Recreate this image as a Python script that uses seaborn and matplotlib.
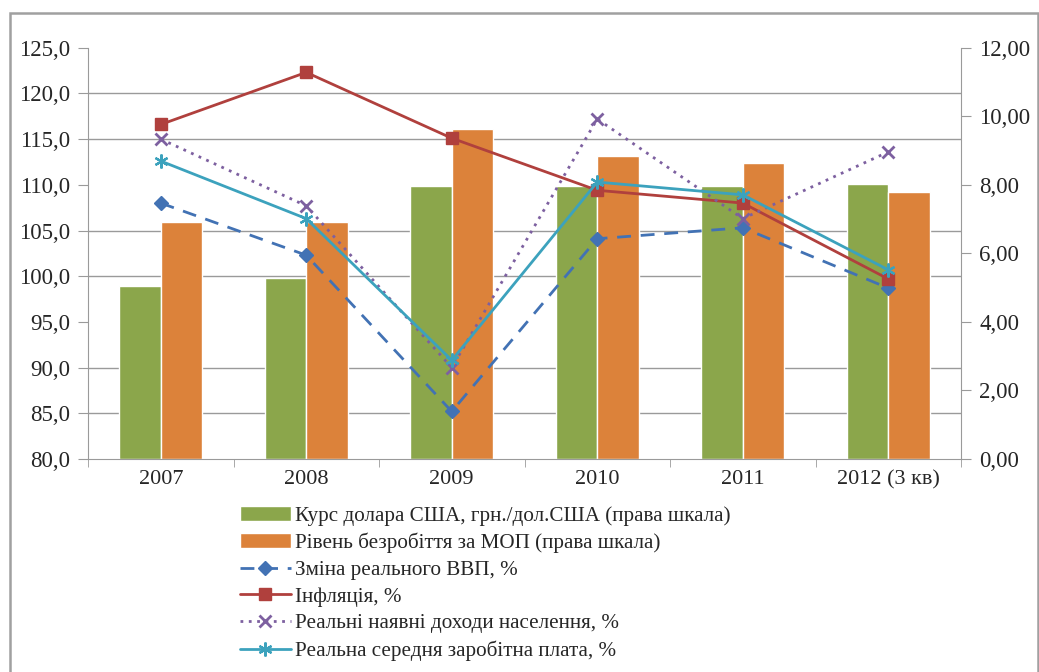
import numpy as np
import pandas as pd
import matplotlib
matplotlib.use("Agg")
import matplotlib.pyplot as plt
from matplotlib.ticker import FuncFormatter, FixedLocator
from matplotlib.patches import Rectangle
import seaborn as sns

# data
years = ["2007", "2008", "2009", "2010", "2011", "2012 (3 кв)"]
usd_rate = [5.05, 5.27, 7.97, 7.96, 7.97, 8.03]           # right scale
unemployment = [6.92, 6.92, 9.62, 8.84, 8.63, 7.80]      # right scale
real_gdp = [108.0, 102.3, 85.2, 104.1, 105.3, 98.7]
inflation = [116.6, 122.3, 115.1, 109.4, 108.0, 99.7]
real_income = [115.0, 107.7, 90.0, 117.2, 106.3, 113.6]
real_wage = [112.6, 106.3, 90.8, 110.3, 108.9, 100.7]

bar_names = ["Курс долара США, грн./дол.США (права шкала)",
             "Рівень безробіття за МОП (права шкала)"]
line_names = ["Зміна реального ВВП, %", "Інфляція, %",
              "Реальні наявні доходи населення, %",
              "Реальна середня заробітна плата, %"]

bars = pd.DataFrame({"year": years * 2,
                     "value": usd_rate + unemployment,
                     "series": [bar_names[0]] * 6 + [bar_names[1]] * 6})

sns.set_style("white")
plt.rcParams["font.family"] = ["Liberation Serif", "DejaVu Serif"]
grey = "#9a9a9a"

fig = plt.figure(figsize=(10.39, 6.72), dpi=100)
ax = fig.add_axes([88 / 1039, 1 - 459 / 672, (961 - 88) / 1039, (459 - 47.7) / 672])

sns.barplot(data=bars, x="year", y="value", hue="series",
            palette=["#8ba64b", "#dc823a"], saturation=1, width=0.57,
            ax=ax, legend=True)
bar_handles, bar_labels = ax.get_legend_handles_labels()
ax.get_legend().remove()

# lines on a twin axis so they sit above the bars
ax2 = ax.twinx()

ax.set_ylim(0, 12)
ax.set_xlim(-0.5, len(years) - 0.5)
ax.set_xlabel("")
ax.set_ylabel("")
ax.yaxis.tick_right()
ax.set_yticks(np.arange(0, 12.1, 2))
ax.yaxis.set_major_formatter(FuncFormatter(lambda v, _: f"{v:.2f}".replace(".", ",")))
# grid follows the left scale (80..125 step 5)
ax.yaxis.set_minor_locator(FixedLocator(np.linspace(0, 12, 10)))
ax.grid(which="minor", axis="y", color=grey, lw=1)
ax.grid(which="major", axis="y", visible=False)
ax.tick_params(axis="y", which="minor", length=0)
ax.tick_params(axis="y", which="major", direction="out", length=7, color=grey,
               labelsize=16.5, pad=6, right=True, labelright=True,
               left=False, labelleft=False)
ax.xaxis.set_minor_locator(FixedLocator(np.arange(-0.5, len(years), 1)))
ax.tick_params(axis="x", which="major", length=0, labelsize=16, pad=8)
ax.tick_params(axis="x", which="minor", direction="out", length=6, color=grey, bottom=True)
ax.set_axisbelow(True)
for s in ["left", "right", "bottom"]:
    ax.spines[s].set_color(grey)
ax.spines["top"].set_visible(False)

x = np.arange(len(years))
ax2.plot(x, real_gdp, color="#4272b4", lw=2, ls=(0, (5, 3.5)), marker="D", ms=7, label=line_names[0])
ax2.plot(x, inflation, color="#b0403d", lw=2, marker="s", ms=8, label=line_names[1])
ax2.plot(x, real_income, color="#7d60a0", lw=2, ls=(0, (1, 2)), marker="x", ms=9, mew=2, label=line_names[2])
ax2.plot(x, real_wage, color="#3ca2bd", lw=2, marker=(6, 2, 0), ms=10, mew=1.6, label=line_names[3])
ax2.set_ylim(80, 125)
ax2.set_yticks(np.arange(80, 126, 5))
ax2.yaxis.set_major_formatter(FuncFormatter(lambda v, _: f"{v:.1f}".replace(".", ",")))
ax2.tick_params(axis="y", direction="out", length=7, color=grey, labelsize=16.5, pad=6,
                left=True, labelleft=True, right=False, labelright=False)
for s in ax2.spines.values():
    s.set_visible(False)

line_handles, line_labels = ax2.get_legend_handles_labels()
fig.legend(bar_handles + line_handles, bar_labels + line_labels,
           loc="upper left", bbox_to_anchor=(240 / 1039, 1 - 506 / 672),
           frameon=False, fontsize=15.2, handlelength=2.4, handletextpad=0.2,
           labelspacing=0.33, borderpad=0, borderaxespad=0)

fig.patches.append(Rectangle((10 / 1039, -0.05), 1028 / 1039, 1.05 - 13 / 672,
                             transform=fig.transFigure, fill=False,
                             edgecolor="#a0a0a0", lw=1.8))

fig.savefig("out.png", dpi=100)
